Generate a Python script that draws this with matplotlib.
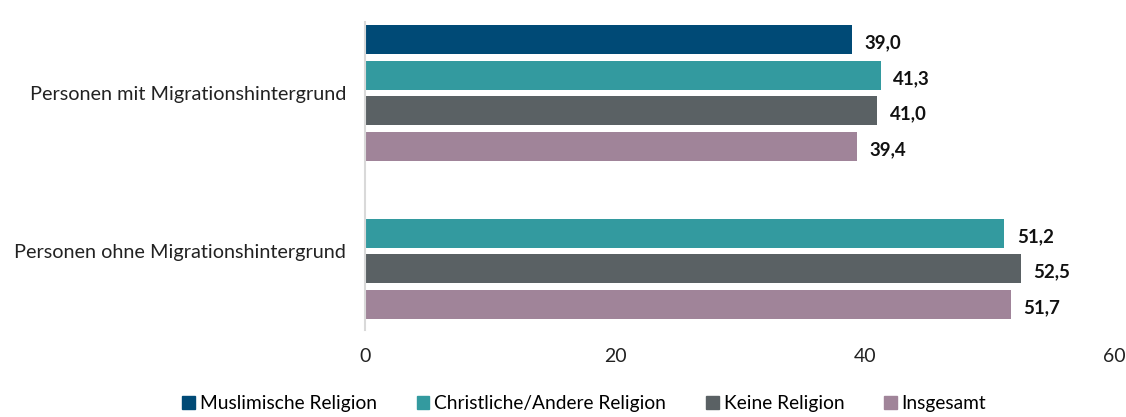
import numpy as np
import matplotlib
matplotlib.use("Agg")
import matplotlib.pyplot as plt
from matplotlib.patches import Patch

plt.rcParams['font.family'] = ['Lato', 'DejaVu Sans']

# -------------------------
# DATA
# -------------------------
categories = ["Personen mit Migrationshintergrund", "Personen ohne Migrationshintergrund"]
series_names = ["Muslimische Religion", "Christliche/Andere Religion", "Keine Religion", "Insgesamt"]
muslim = [39.0, np.nan]
christian = [41.3, 51.2]
keine = [41.0, 52.5]
insgesamt = [39.4, 51.7]
series_values = [muslim, christian, keine, insgesamt]
colors = ["#004A76", "#339A9F", "#5A6164", "#A08499"]
xticks = [0, 20, 40, 60]

# -------------------------
# PLOT
# -------------------------
fig = plt.figure(figsize=(11.26, 4.17), dpi=100)
ax = fig.add_axes([0.3246, 0.209, 0.665, 0.738])

slot = 0.225
bar_h = 0.183
y_cat = np.arange(len(categories))

for i, (name, vals, col) in enumerate(zip(series_names, series_values, colors)):
    ys = y_cat + (i - 1.5) * slot
    for y, v in zip(ys, vals):
        if np.isnan(v):
            continue
        ax.barh(y, v, height=bar_h, color=col)
        ax.text(v + 1.0, y + 0.02, f"{v:.1f}".replace(".", ","),
                va="center", ha="left", fontsize=13.5, fontweight="bold",
                color="#111111")

ax.set_xlim(0, 60)
ax.set_ylim(1.5, -0.45)
ax.set_xticks(xticks)
ax.set_xticklabels([str(t) for t in xticks], fontsize=14, color="#222222")
ax.set_yticks(y_cat)
ax.set_yticklabels(categories, fontsize=14.3, color="#222222")
ax.tick_params(axis="both", length=0)
ax.tick_params(axis="x", pad=13)
ax.tick_params(axis="y", pad=14)

for s in ["top", "right", "bottom"]:
    ax.spines[s].set_visible(False)
ax.spines["left"].set_color("#d9d9d9")
ax.spines["left"].set_linewidth(1.5)

handles = [Patch(color=c, label=n) for n, c in zip(series_names, colors)]
fig.legend(handles=handles, loc="lower center", bbox_to_anchor=(0.519, -0.03),
           ncol=4, frameon=False, fontsize=13.8, handlelength=0.65, handleheight=0.65,
           handletextpad=0.25, columnspacing=2.1)

fig.savefig("out.png", dpi=100)
